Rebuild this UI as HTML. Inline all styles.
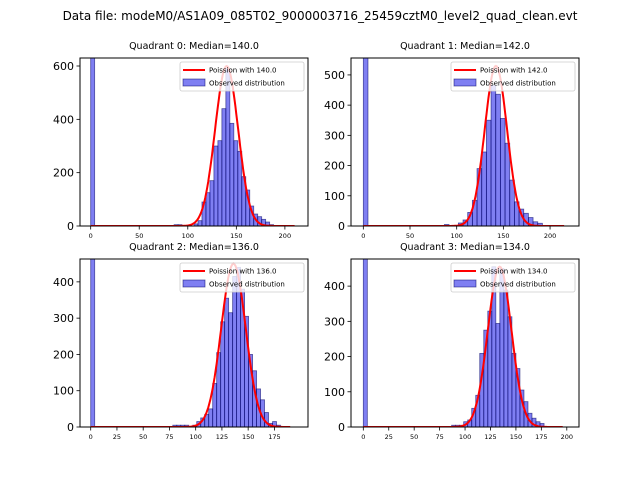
<!DOCTYPE html>
<html><head><meta charset="utf-8">
<style>
body{margin:0;background:#fff;}
svg{display:block;font-family:"DejaVu Sans","Liberation Sans",sans-serif;}
</style></head>
<body>
<svg id="fig" width="640" height="480" viewBox="0 0 640 480">
<rect width="640" height="480" fill="#fff"/>
<text x="320" y="20" font-size="12" text-anchor="middle">Data file: modeM0/AS1A09_085T02_9000003716_25459cztM0_level2_quad_clean.evt</text>
</svg>
<script>
// Quadrant data
const medians = [140.0, 142.0, 136.0, 134.0];
const binWidths = [4.1, 5.0, 3.8, 3.95];
const zeroBinCounts = [2000, 2000, 2000, 2000];
const binStarts = [85.9, 86.8, 78.2, 86.8];
const counts0 = [5,5,0,0,0,8,20,90,125,170,300,320,440,590,385,320,280,185,135,75,45,35,25,15,5];
const counts1 = [5,0,0,10,20,45,85,190,245,350,465,436,356,274,152,80,56,42,28,14,9];
const counts2 = [5,5,5,5,0,5,15,25,35,50,120,205,290,355,315,415,440,380,305,200,155,105,75,40,10,15,5];
const counts3 = [5,5,5,15,20,53,90,209,275,329,455,294,450,389,313,209,166,105,72,39,25,15,10];
const curvePeaks = [600, 530, 450, 455];
const curveEnds = [210, 215, 190, 196];
const xTicks = [[0,50,100,150,200],[0,50,100,150,200],[0,25,50,75,100,125,150,175],[0,25,50,75,100,125,150,175,200]];
const yTicks = [[0,200,400,600],[0,100,200,300,400,500],[0,100,200,300,400],[0,100,200,300,400]];
const xDomains = [[-11,223.8],[-13.2,231],[-10.2,207],[-12.1,212]];
const yMaxes = [630,556,463,477];

const allCounts=[counts0,counts1,counts2,counts3];
const boxes=[[80,58],[351,58],[80,259],[351,259]];
const W=228,H=168;
const NS="http://www.w3.org/2000/svg";
const svg=document.getElementById('fig');
function mk(tag,attrs,parent){const e=document.createElementNS(NS,tag);for(const k in attrs)e.setAttribute(k,attrs[k]);(parent||svg).appendChild(e);return e;}

for(let q=0;q<4;q++){
  const [bx,by]=boxes[q];
  const [x0,x1]=xDomains[q];
  const X=v=>bx+(v-x0)/(x1-x0)*W;
  const Y=v=>by+H-v/yMaxes[q]*H;
  const g=mk('g',{});
  
  
  const clipId='c'+q;
  const cp=mk('clipPath',{id:clipId},g);mk('rect',{x:bx,y:by,width:W,height:H},cp);
  const bars=mk('g',{'clip-path':'url(#'+clipId+')'},g);
  const bw=binWidths[q];
  const lefts=[0], cnts=[zeroBinCounts[q]];
  allCounts[q].forEach((c,i)=>{lefts.push(binStarts[q]+i*bw);cnts.push(c);});
  for(let i=0;i<lefts.length;i++){
    if(cnts[i]<=0) continue;
    const r=mk('rect',{x:X(lefts[i]),y:Y(cnts[i]),width:X(lefts[i]+bw)-X(lefts[i]),height:Y(0)-Y(cnts[i]),fill:'rgba(0,0,230,0.5)',stroke:'rgba(0,0,100,0.6)','stroke-width':0.8},bars);
    
    
  }
  const mu=medians[q],sd=Math.sqrt(mu);let d='';
  for(let v=0;v<=curveEnds[q];v+=1){const c=curvePeaks[q]*Math.exp(-0.5*((v-mu)/sd)**2);d+=(v?'L':'M')+X(v).toFixed(1)+','+Y(c).toFixed(1);}
  const p=mk('path',{d:d,fill:'none',stroke:'#ff0000','stroke-width':2},bars);
  
  
  const fr=mk('rect',{x:bx,y:by,width:W,height:H,fill:'none',stroke:'#000','stroke-width':1},g);
  
  
  for(const t of xTicks[q]){
    mk('line',{x1:X(t),x2:X(t),y1:by+H,y2:by+H+3.5,stroke:'#000','stroke-width':0.8},g);
    const tx=mk('text',{x:X(t),y:by+H+12,'font-size':6.5,'text-anchor':'middle'},g);tx.textContent=t;
    
    
  }
  for(const t of yTicks[q]){
    mk('line',{x1:bx-3.5,x2:bx,y1:Y(t),y2:Y(t),stroke:'#000','stroke-width':0.8},g);
    const ty=mk('text',{x:bx-6,y:Y(t)+4,'font-size':11,'text-anchor':'end'},g);ty.textContent=t;
    
    
  }
  const ti=mk('text',{x:bx+W/2,y:by-9,'font-size':9.5,'text-anchor':'middle'},g);
  ti.textContent='Quadrant '+q+': Median='+medians[q].toFixed(1);
  
  
  const lg=mk('g',{},g);
  
  
  const lx=bx+W-128,ly=by+4;
  mk('rect',{x:lx,y:ly,width:124,height:29,fill:'#fff','fill-opacity':0.8,stroke:'#ccc','stroke-width':0.8,rx:2},lg);
  mk('line',{x1:lx+3,x2:lx+25,y1:ly+8,y2:ly+8,stroke:'#ff0000','stroke-width':2},lg);
  const l1=mk('text',{x:lx+29,y:ly+10.5,'font-size':7},lg);l1.textContent='Poission with '+medians[q].toFixed(1);
  
  
  mk('rect',{x:lx+3,y:ly+17,width:22,height:7,fill:'rgba(0,0,230,0.5)',stroke:'rgba(0,0,100,0.6)','stroke-width':0.8},lg);
  const l2=mk('text',{x:lx+29,y:ly+23.5,'font-size':7},lg);l2.textContent='Observed distribution';
  
  
}
</script>
</body></html>
